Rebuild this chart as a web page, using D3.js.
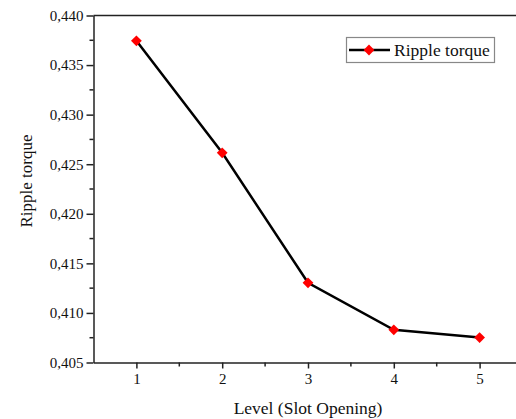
<!DOCTYPE html>
<html>
<head>
<meta charset="utf-8">
<script src="https://d3js.org/d3.v7.min.js"></script>
<style>
  body { margin: 0; background: #fff; }
  text { font-family: "Liberation Serif", "Times New Roman", serif; fill: #111; }
</style>
</head>
<body>
<div class="chart"></div>
<script>
var levels = [1, 2, 3, 4, 5];
var rippleTorque = [0.43745, 0.42615, 0.41304, 0.4083, 0.40752];
var yTicks = [0.405, 0.410, 0.415, 0.420, 0.425, 0.430, 0.435, 0.440];

var svgWidth = 516;
var svgHeight = 419;

var svg = d3.select(".chart")
  .append("svg")
  .attr("width", svgWidth)
  .attr("height", svgHeight);

// plot box edges (don't call it "top", that's window.top)
var box = { left: 93.5, right: 522.5, top: 15.5, bottom: 362.5 };

var x = d3.scaleLinear().domain([0.5, 5.5]).range([box.left, box.right]);
var y = d3.scaleLinear().domain([0.405, 0.440]).range([box.bottom, box.top]);

var loc = d3.formatLocale({ decimal: ",", thousands: ".", grouping: [3], currency: ["", ""] });
var fmt = loc.format(".3f");

// top border
svg.append("line")
  .attr("x1", box.left).attr("x2", box.right)
  .attr("y1", box.top).attr("y2", box.top)
  .attr("stroke", "#222").attr("stroke-width", 1.5);

// y axis
var yAxis = svg.append("g")
  .attr("transform", `translate(${box.left},0)`)
  .call(d3.axisLeft(y).tickValues(yTicks).tickFormat(fmt).tickSize(7).tickSizeOuter(0).tickPadding(3));

// y minor ticks
svg.append("g").selectAll("line")
  .data(yTicks.slice(0, -1).map(d => d + 0.0025))
  .enter().append("line")
  .attr("x1", box.left - 4).attr("x2", box.left)
  .attr("y1", d => y(d)).attr("y2", d => y(d))
  .attr("stroke", "#222").attr("stroke-width", 1.5);

// x axis
var xAxis = svg.append("g")
  .attr("transform", `translate(0,${box.bottom})`)
  .call(d3.axisBottom(x).tickValues(levels).tickFormat(d3.format("d")).tickSize(6).tickSizeOuter(0).tickPadding(5));

svg.append("g").selectAll("line")
  .data([1.5, 2.5, 3.5, 4.5, 5.5])
  .enter().append("line")
  .attr("x1", d => x(d)).attr("x2", d => x(d))
  .attr("y1", box.bottom).attr("y2", box.bottom + 4)
  .attr("stroke", "#222").attr("stroke-width", 1.5);

[yAxis, xAxis].forEach(a => {
  a.selectAll("path, line").attr("stroke", "#222").attr("stroke-width", 1.5);
  a.selectAll("text").attr("font-size", "15px").attr("font-family", "Liberation Serif, serif").attr("fill", "#111");
});

// axis titles
svg.append("text")
  .attr("x", 308)
  .attr("y", 414)
  .attr("text-anchor", "middle")
  .attr("font-size", "17.5px")
  .text("Level (Slot Opening)");

svg.append("text")
  .attr("transform", "rotate(-90)")
  .attr("x", -181)
  .attr("y", 32)
  .attr("text-anchor", "middle")
  .attr("font-size", "17px")
  .text("Ripple torque");

// series
var points = levels.map((d, i) => ({ level: d, value: rippleTorque[i] }));

svg.append("path")
  .datum(points)
  .attr("fill", "none")
  .attr("stroke", "#000")
  .attr("stroke-width", 2.5)
  .attr("d", d3.line().x(d => x(d.level)).y(d => y(d.value)));

var diamond = d3.symbol().type(d3.symbolSquare).size(58);

svg.append("g").selectAll("path")
  .data(points)
  .enter().append("path")
  .attr("transform", d => `translate(${x(d.level)},${y(d.value)}) rotate(45)`)
  .attr("d", diamond)
  .attr("fill", "#ff0000");

// legend
var legend = svg.append("g");
legend.append("rect")
  .attr("x", 346.5).attr("y", 37.5)
  .attr("width", 148).attr("height", 25)
  .attr("fill", "#fff")
  .attr("stroke", "#888").attr("stroke-width", 1.2);
legend.append("line")
  .attr("x1", 349).attr("x2", 390)
  .attr("y1", 50).attr("y2", 50)
  .attr("stroke", "#000").attr("stroke-width", 2.5);
legend.append("path")
  .attr("transform", "translate(369,50) rotate(45)")
  .attr("d", diamond)
  .attr("fill", "#ff0000");
legend.append("text")
  .attr("x", 394).attr("y", 56)
  .attr("font-size", "17.5px")
  .text("Ripple torque");
</script>
</body>
</html>
